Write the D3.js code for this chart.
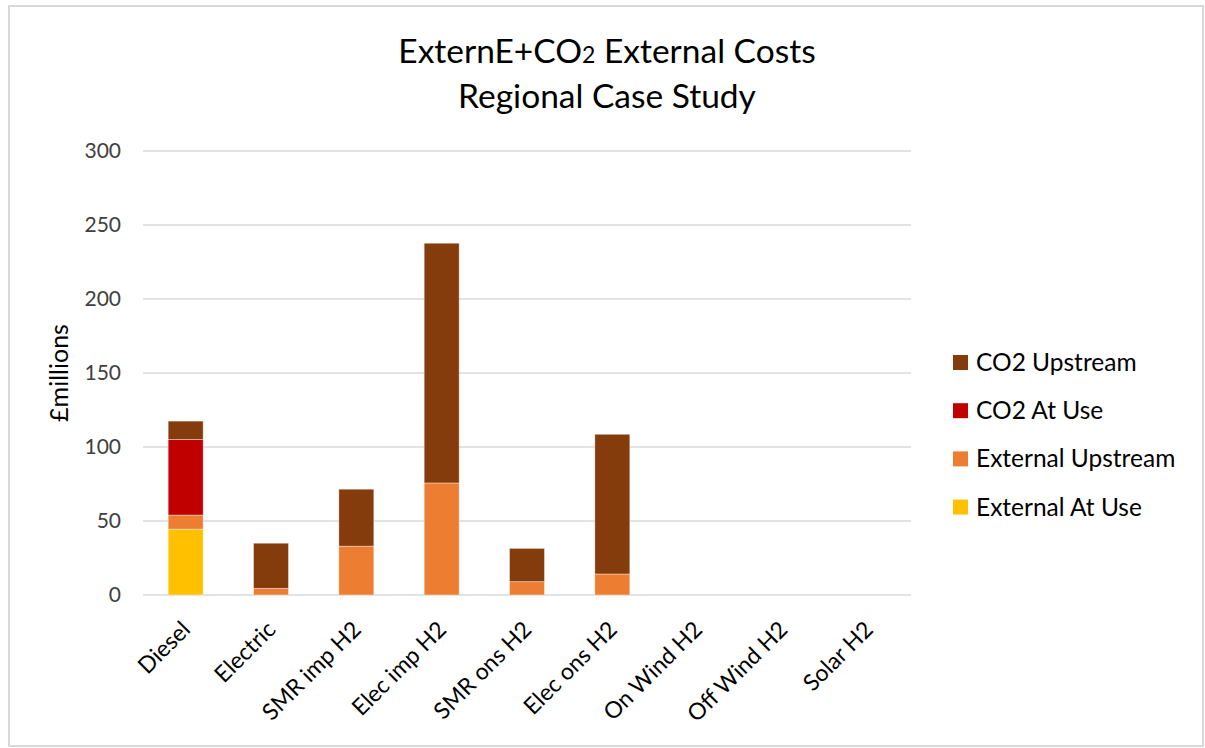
<!DOCTYPE html>
<html>
<head>
<meta charset="utf-8">
<script src="https://cdn.jsdelivr.net/npm/d3@7"></script>
<style>
  html, body { margin: 0; padding: 0; background: #fff; }
  svg { display: block; font-family: Lato, "Open Sans", sans-serif; }
</style>
</head>
<body>
<svg id="chart" width="1205" height="748"></svg>
<script>
// Categories along the x axis
const categories = ["Diesel", "Electric", "SMR imp H2", "Elec imp H2", "SMR ons H2",
                    "Elec ons H2", "On Wind H2", "Off Wind H2", "Solar H2"];

// Stacked series values (£ millions), bottom to top
const externalAtUse    = [44.5, 0,    0,    0,     0,    0,    0, 0, 0];
const externalUpstream = [9.5,  4.5,  33.0, 75.7,  9.0,  14.2, 0, 0, 0];
const co2AtUse         = [51.0, 0,    0,    0,     0,    0,    0, 0, 0];
const co2Upstream      = [12.5, 30.5, 38.5, 162.0, 22.5, 94.4, 0, 0, 0];

const seriesNames  = ["External At Use", "External Upstream", "CO2 At Use", "CO2 Upstream"];
const seriesColors = ["#FFC000", "#ED7D31", "#C00000", "#843C0C"];
const yTicks = [0, 50, 100, 150, 200, 250, 300];

const svg = d3.select("#chart");
const plot = { left: 143, right: 911, top: 151, bottom: 595 };
const FONT = "Lato, 'Open Sans', sans-serif";

// Outer chart border
svg.append("rect")
  .attr("x", 9).attr("y", 6).attr("width", 1194).attr("height", 740)
  .attr("fill", "#fff").attr("stroke", "#d9d9d9").attr("stroke-width", 2);

const table = categories.map((c, i) => ({
  category: c,
  "External At Use": externalAtUse[i],
  "External Upstream": externalUpstream[i],
  "CO2 At Use": co2AtUse[i],
  "CO2 Upstream": co2Upstream[i]
}));

const stacked = d3.stack().keys(seriesNames)(table);

const x = d3.scaleBand().domain(categories)
  .range([plot.left, plot.right]).paddingInner(0.59).paddingOuter(0.295);
const y = d3.scaleLinear().domain([0, 300]).range([plot.bottom, plot.top]);
const color = d3.scaleOrdinal().domain(seriesNames).range(seriesColors);

// Horizontal gridlines
svg.append("g").selectAll("line").data(yTicks).join("line")
  .attr("x1", plot.left).attr("x2", plot.right)
  .attr("y1", d => y(d)).attr("y2", d => y(d))
  .attr("stroke", "#d9d9d9").attr("stroke-width", 1.5);

// Y axis tick labels
const yAxis = svg.append("g")
  .attr("transform", `translate(${plot.left - 22},0)`)
  .call(d3.axisLeft(y).tickValues(yTicks).tickSize(0).tickPadding(0));
yAxis.select(".domain").remove();
yAxis.selectAll("text")
  .attr("font-size", 21).attr("fill", "#404040")
  .attr("font-family", FONT);

// Y axis title
svg.append("text")
  .attr("transform", `translate(68,${(plot.top + plot.bottom) / 2}) rotate(-90)`)
  .attr("text-anchor", "middle")
  .attr("font-size", 25).attr("fill", "#000")
  .text("£millions");

// Stacked bars
svg.append("g").selectAll("g").data(stacked).join("g")
  .attr("fill", d => color(d.key))
  .selectAll("rect").data(d => d).join("rect")
  .attr("x", d => x(d.data.category))
  .attr("width", x.bandwidth())
  .attr("y", d => y(d[1]))
  .attr("height", d => Math.max(0, y(d[0]) - y(d[1])))
  .attr("stroke", "rgba(255,255,255,0.5)").attr("stroke-width", 0.8)
  .attr("display", d => (d[1] - d[0]) > 0 ? null : "none");

// X axis category labels, rotated
const xAxis = svg.append("g")
  .attr("transform", `translate(0,${plot.bottom})`)
  .call(d3.axisBottom(x).tickSize(0).tickPadding(0));
xAxis.select(".domain").remove();
xAxis.selectAll("text")
  .attr("font-size", 23).attr("fill", "#000")
  .attr("font-family", FONT)
  .attr("text-anchor", "end")
  .attr("dy", "0")
  .attr("transform", "translate(6,36) rotate(-45)");

// Title
const title = svg.append("text")
  .attr("x", 607).attr("text-anchor", "middle")
  .attr("font-size", 33.5).attr("fill", "#000");
const line1 = title.append("tspan").attr("x", 607).attr("y", 63);
line1.append("tspan").text("ExternE+CO");
line1.append("tspan").attr("font-size", 23).text("2");
line1.append("tspan").text(" External Costs");
title.append("tspan").attr("x", 607).attr("y", 108).text("Regional Case Study");

// Legend, top entry is the top of the stack
const legendItems = seriesNames.slice().reverse();
const legend = svg.append("g").selectAll("g").data(legendItems).join("g")
  .attr("transform", (d, i) => `translate(953,${362.5 + i * 48.2})`);
legend.append("rect")
  .attr("x", 0).attr("y", -7.5).attr("width", 15).attr("height", 15)
  .attr("fill", d => color(d));
legend.append("text")
  .attr("x", 23).attr("y", 0).attr("dy", "0.35em")
  .attr("font-size", 24.5).attr("fill", "#000")
  .text(d => d);
</script>
</body>
</html>
